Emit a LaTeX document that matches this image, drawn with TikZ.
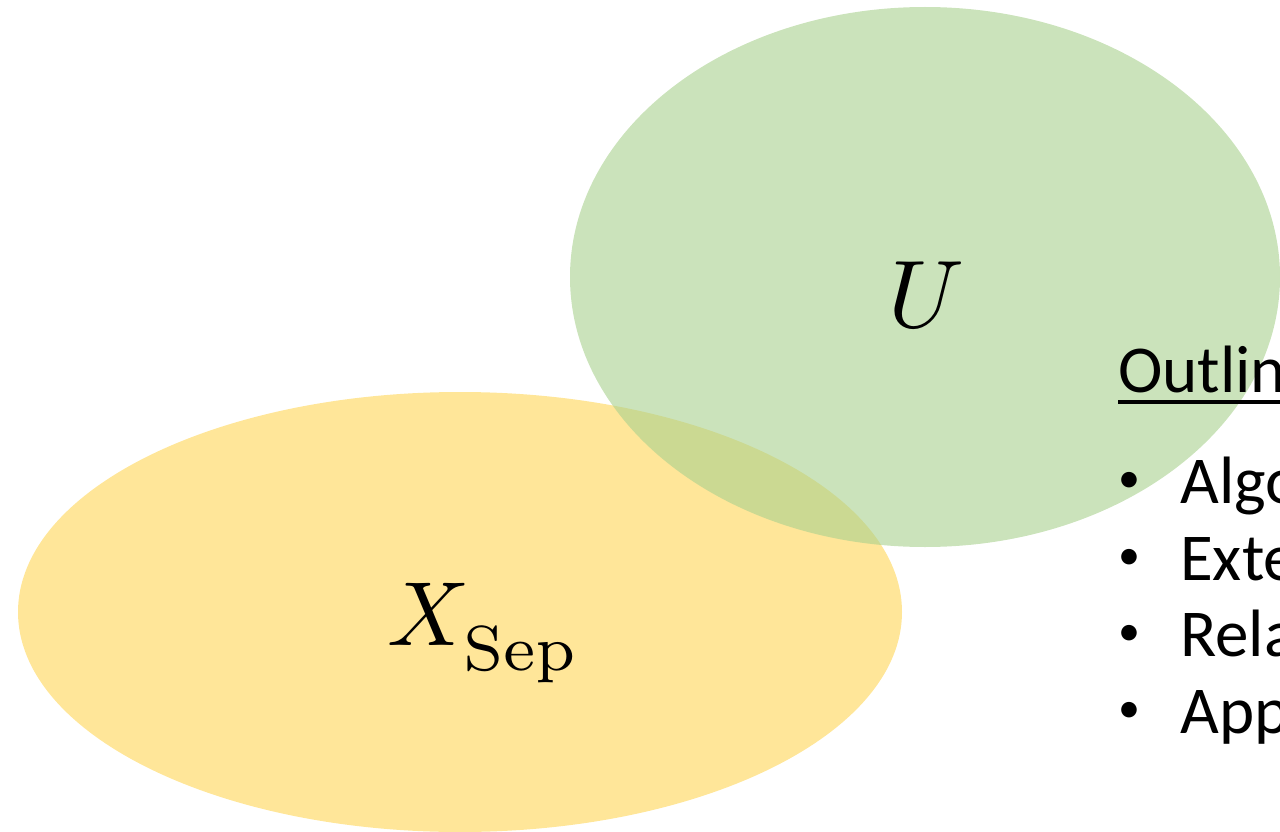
\documentclass[tikz,border=0pt]{standalone}
\usepackage{fontspec}
\newfontfamily\carlito{Carlito}
\definecolor{yellowfill}{HTML}{FFE699}
\definecolor{greenfill}{HTML}{A9D18E}
\begin{document}
\begin{tikzpicture}[x=1pt,y=-1pt,
  outltext/.style={font=\carlito\fontsize{67}{80}\selectfont,inner sep=0pt,anchor=base west,text=black},
  bullettext/.style={font=\carlito\fontsize{44}{50}\selectfont,inner sep=0pt,anchor=center,text=black},
  mathlabel/.style={inner sep=0pt,text=black}]
\useasboundingbox (0,0) rectangle (1280,832);
\clip (0,0) rectangle (1280,832);
% sets
\fill[yellowfill] (460,612) ellipse [x radius=442, y radius=220];
\fill[greenfill,fill opacity=0.6] (925,277) ellipse [x radius=355, y radius=270];
% labels
\node[mathlabel,scale=9.6] (U) at (926,295) {$U$};
\node[mathlabel,scale=9.1,anchor=base west] (X) at (386,645) {$X_{\lower1.3pt\hbox{$\scriptstyle\mathrm{Sep}$}}$};
% outline
\node[outltext] (outl) at (1118,392) {Outlin};
\draw[line width=4pt] (outl.base west) ++(0,10) coordinate (ul1) -- ++(200,0) coordinate (ul2);
\foreach \t/\yy/\nm in {Algo/503/a, Exte/580/b, Rela/656/c, App/733/d}{
  \node[bullettext] (bul\nm) at (1129,\yy-21) {•};
  \node[outltext] (item\nm) at (1180,\yy) {\t};
}
\end{tikzpicture}
\end{document}
